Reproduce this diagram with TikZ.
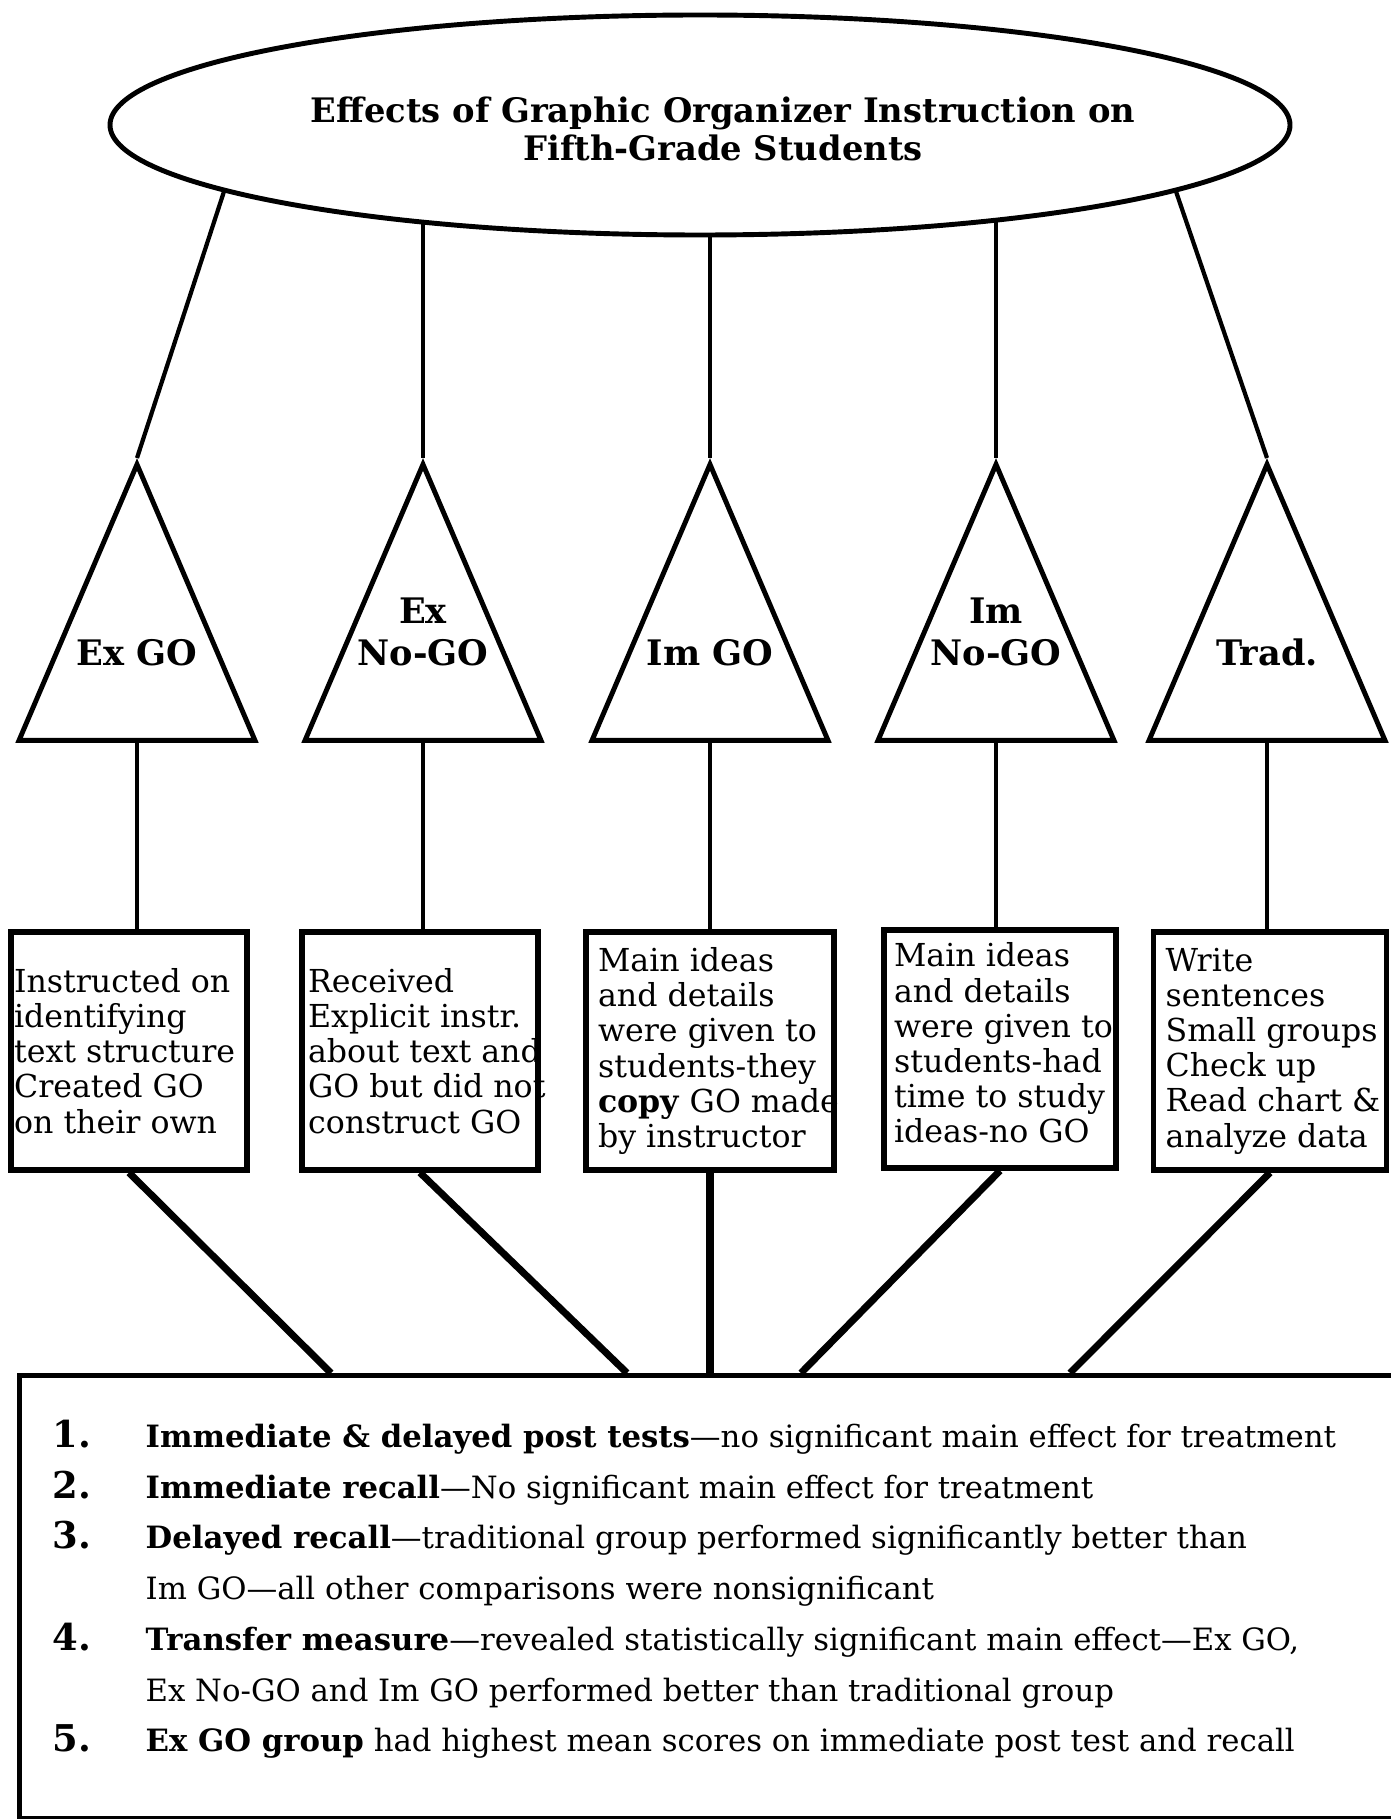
\documentclass[tikz,border=0pt]{standalone}
\usepackage{fontspec}
\setmainfont{DejaVu Serif}
\usetikzlibrary{shapes.geometric, positioning}

\begin{document}
\begin{tikzpicture}
  \tikzstyle{title}=[ellipse, draw, line width=1.4pt, minimum width=11.8cm, minimum height=2.2cm, inner sep=0pt]
  \tikzstyle{titletext}=[inner sep=0pt, align=center, font=\bfseries\fontsize{9.6}{11}\selectfont]
  \tikzstyle{group}=[isosceles triangle, isosceles triangle stretches, shape border rotate=90, draw, line width=1.4pt, minimum width=2.36cm, minimum height=2.76cm, inner sep=0pt]
  \tikzstyle{grouplabel}=[inner sep=0pt, align=center, font=\bfseries\fontsize{10}{12}\selectfont]
  \tikzstyle{box}=[rectangle, draw, line width=1.5pt, minimum width=2.36cm, minimum height=2.38cm, inner sep=0pt]
  \tikzstyle{boxtext}=[inner sep=0pt, align=left, font=\fontsize{9}{10}\selectfont]
  \tikzstyle{link}=[line width=1.2pt]
  \tikzstyle{thicklink}=[line width=2pt]

  \useasboundingbox (0, 0) rectangle (13.9, -18.19);

  \node[title] (title) at (7.0, -1.25) {};
  \node[titletext] (titletext) at ([xshift=0.23cm, yshift=-0.04cm]title.center) {Effects of Graphic Organizer Instruction on\\Fifth-Grade Students};

  % groups
  \node[group, anchor=apex] (t1) at (1.37, -4.58) {};
  \node[group, anchor=apex] (t2) at (4.23, -4.58) {};
  \node[group, anchor=apex] (t3) at (7.10, -4.58) {};
  \node[group, anchor=apex] (t4) at (9.96, -4.58) {};
  \node[group, anchor=apex] (t5) at (12.67, -4.58) {};

  \node[grouplabel, above=0.76cm of t1.lower side] (l1) {Ex GO};
  \node[grouplabel, above=0.76cm of t2.lower side] (l2) {Ex\\No-GO};
  \node[grouplabel, above=0.76cm of t3.lower side] (l3) {Im GO};
  \node[grouplabel, above=0.76cm of t4.lower side] (l4) {Im\\No-GO};
  \node[grouplabel, above=0.76cm of t5.lower side] (l5) {Trad.};

  % treatments
  \node[box] (b1) at (1.29, -10.51) {};
  \node[box] (b2) at (4.20, -10.51) {};
  \node[box, minimum width=2.48cm] (b3) at (7.10, -10.51) {};
  \node[box, minimum width=2.32cm] (b4) at (10.00, -10.49) {};
  \node[box, minimum width=2.33cm] (b5) at (12.70, -10.51) {};

  \node[boxtext, right=0.05cm of b1.west] (x1) {Instructed on\\identifying\\text structure\\Created GO\\on their own};
  \node[boxtext, right=0.08cm of b2.west] (x2) {Received\\Explicit instr.\\about text and\\GO but did not\\construct GO};
  \node[boxtext, right=0.14cm of b3.west] (x3) {Main ideas\\and details\\were given to\\students-they\\\textbf{copy} GO made\\by instructor};
  \node[boxtext, right=0.12cm of b4.west, yshift=0.06cm] (x4) {Main ideas\\and details\\were given to\\students-had\\time to study\\ideas-no GO};
  \node[boxtext, right=0.14cm of b5.west] (x5) {Write\\sentences\\Small groups\\Check up\\Read chart \&\\analyze data};

  % results
  \node[draw, line width=1.4pt, minimum width=14.2cm, minimum height=4.43cm, inner sep=0pt, anchor=north west] (results) at (0.17, -13.73) {};
  \coordinate (r1) at (3.31, -13.73);
  \coordinate (r2) at (6.27, -13.73);
  \coordinate (r4) at (8.01, -13.73);
  \coordinate (r5) at (10.70, -13.73);

  \node[inner sep=0pt, anchor=north west, font=\fontsize{8.75}{14.45}\selectfont] (list) at (0.52, -14.11) {%
    \begin{tabular}{@{}p{0.93cm}@{}l@{}}
      {\bfseries\fontsize{10.5}{12}\selectfont 1.} & \textbf{Immediate \& delayed post tests}---no significant main effect for treatment\\
      {\bfseries\fontsize{10.5}{12}\selectfont 2.} & \textbf{Immediate recall}---No significant main effect for treatment\\
      {\bfseries\fontsize{10.5}{12}\selectfont 3.} & \textbf{Delayed recall}---traditional group performed significantly better than\\
       & Im GO---all other comparisons were nonsignificant\\
      {\bfseries\fontsize{10.5}{12}\selectfont 4.} & \textbf{Transfer measure}---revealed statistically significant main effect---Ex GO,\\
       & Ex No-GO and Im GO performed better than traditional group\\
      {\bfseries\fontsize{10.5}{12}\selectfont 5.} & \textbf{Ex GO group} had highest mean scores on immediate post test and recall
    \end{tabular}};

  \draw[link] (title.188) -- (t1.apex);
  \draw[link] (t2.apex |- title.199) -- (t2.apex);
  \draw[link] (t3.apex |- title.south) -- (t3.apex);
  \draw[link] (t4.apex |- title.342) -- (t4.apex);
  \draw[link] (title.352.4) -- (t5.apex);

  \draw[line width=1.3pt] (t1.lower side) -- (t1.lower side |- b1.north);
  \draw[line width=1.3pt] (t2.lower side) -- (t2.lower side |- b2.north);
  \draw[line width=1.3pt] (t3.lower side) -- (t3.lower side |- b3.north);
  \draw[line width=1.3pt] (t4.lower side) -- (t4.lower side |- b4.north);
  \draw[line width=1.3pt] (t5.lower side) -- (t5.lower side |- b5.north);

  \draw[thicklink] (b1.south) -- (r1);
  \draw[thicklink] (b2.south) -- (r2);
  \draw[thicklink] (b3.south) -- (b3.south |- results.north);
  \draw[thicklink] (b4.south) -- (r4);
  \draw[thicklink] (b5.south) -- (r5);
\end{tikzpicture}
\end{document}
